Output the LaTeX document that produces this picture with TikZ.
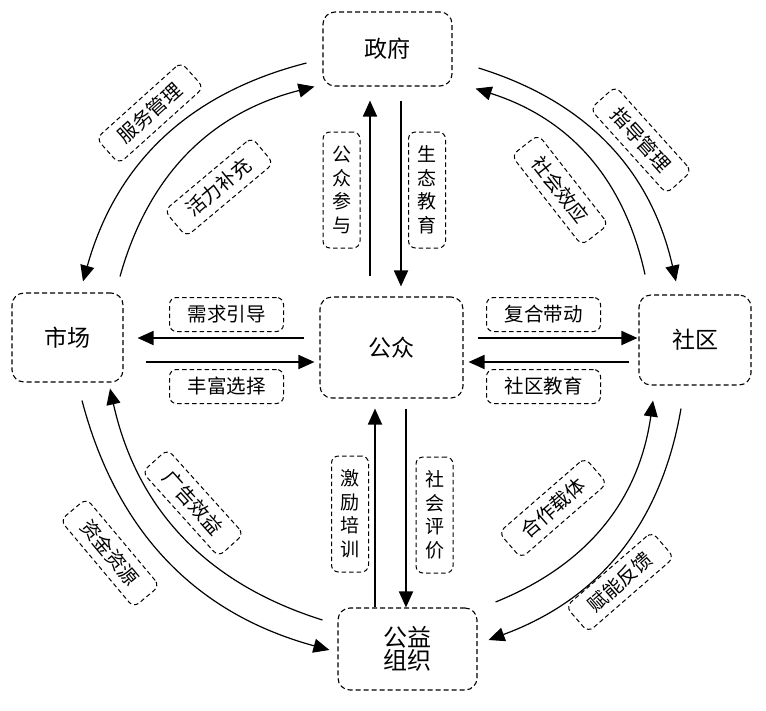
\documentclass[tikz,border=0pt]{standalone}
\usepackage{fontspec}
\newfontfamily\cjk{Noto Sans CJK SC}
\usetikzlibrary{arrows.meta}
\begin{document}
\begin{tikzpicture}[x=1pt,y=1pt,
  dbox/.style={draw, dash pattern=on 5pt off 3pt, line width=1.1pt, rounded corners=12pt, inner sep=0pt, font=\cjk\fontsize{23}{25}\selectfont},
  lbl/.style={draw, dash pattern=on 4.5pt off 3pt, line width=1pt, rounded corners=7pt, minimum width=114pt, minimum height=34pt, inner sep=0pt, font=\cjk\fontsize{19.5}{22}\selectfont},
  vlbl/.style={draw, dash pattern=on 4.5pt off 3pt, line width=1pt, rounded corners=7pt, minimum width=37pt, minimum height=116pt, inner sep=0pt, align=center, font=\cjk\fontsize{19}{23.5}\selectfont},
  sarr/.style={line width=1.8pt, -{Triangle[length=16pt,width=14pt]}},
  carr/.style={line width=1.2pt, -{Triangle[length=16pt,width=14pt]}},
  bend angle=30]
\useasboundingbox (0,0) rectangle (766,-710);
% main nodes
\node[dbox, minimum width=129pt, minimum height=74pt] (gov) at (387.5,-49) {政府};
\node[dbox, minimum width=143pt, minimum height=101pt] (pub) at (391.5,-347.5) {公众};
\node[dbox, minimum width=111pt, minimum height=89pt] (mkt) at (67.5,-337.5) {市场};
\node[dbox, minimum width=112pt, minimum height=90pt] (com) at (695,-340) {社区};
\node[dbox, minimum width=139pt, minimum height=82pt, align=center, font=\cjk\fontsize{24}{23}\selectfont] (ngo) at (407.5,-649) {公益\\组织};
% horizontal labels
\node[lbl] (l1) at (226.5,-314.5) {需求引导};
\node[lbl] (l2) at (226.5,-386.5) {丰富选择};
\node[lbl] (l3) at (543.5,-314.5) {复合带动};
\node[lbl] (l4) at (543.5,-386.5) {社区教育};
% vertical labels
\node[vlbl] (v1) at (341.5,-190) {公\\众\\参\\与};
\node[vlbl] (v2) at (427,-190) {生\\态\\教\\育};
\node[vlbl] (v3) at (350,-514) {激\\励\\培\\训};
\node[vlbl] (v4) at (434.5,-515) {社\\会\\评\\价};
% rotated labels
\node[lbl, rotate=42] (r1) at (150,-113) {服务管理};
\node[lbl, rotate=40] (r2) at (219,-187) {活力补充};
\node[lbl, rotate=-48] (r3) at (641,-140) {指导管理};
\node[lbl, rotate=-52] (r4) at (560,-190) {社会效应};
\node[lbl, rotate=-48] (r5) at (193,-503) {广告效益};
\node[lbl, rotate=-50] (r6) at (110,-553) {资金资源};
\node[lbl, rotate=41] (r7) at (553,-508) {合作载体};
\node[lbl, rotate=41] (r8) at (620,-582) {赋能反馈};
% straight arrows
\draw[sarr] ([xshift=-21.5pt,yshift=20pt]pub.north) -- ([xshift=-17.5pt,yshift=-14pt]gov.south);
\draw[sarr] ([xshift=13.5pt,yshift=-14pt]gov.south) -- ([xshift=9.5pt,yshift=10pt]pub.north);
\draw[sarr] ([xshift=-32.5pt]ngo.north) -- ([xshift=-16.5pt,yshift=-10pt]pub.south);
\draw[sarr] ([xshift=14.5pt,yshift=-10pt]pub.south) -- ([xshift=-1.5pt]ngo.north);
\draw[sarr] ([xshift=-15pt,yshift=9.5pt]pub.west) -- ([xshift=14pt,yshift=-0.5pt]mkt.east);
\draw[sarr] ([xshift=22pt,yshift=-24.5pt]mkt.east) -- ([xshift=-5pt,yshift=-14.5pt]pub.west);
\draw[sarr] ([xshift=14pt,yshift=9.5pt]pub.east) -- ([xshift=-1pt,yshift=2pt]com.west);
\draw[sarr] ([xshift=-9pt,yshift=-22pt]com.west) -- ([xshift=5pt,yshift=-14.5pt]pub.east);
% curved arrows
\draw[carr] ([xshift=-16pt,yshift=-14pt]gov.west) to[bend right] ([xshift=15.5pt,yshift=11pt]mkt.north);
\draw[carr] ([xshift=52.5pt,yshift=16pt]mkt.north) to[bend left] ([xshift=-8pt]gov.south west);
\draw[carr] ([xshift=26pt,yshift=-19pt]gov.east) to[bend left] ([xshift=-19pt,yshift=13pt]com.north);
\draw[carr] ([xshift=-50pt,yshift=20pt]com.north) to[bend right] ([xshift=23pt,yshift=-2pt]gov.south east);
\draw[carr] ([xshift=14.5pt,yshift=-18pt]mkt.south) to[bend right] ([xshift=-8pt,yshift=-1pt]ngo.west);
\draw[carr] ([xshift=-15pt,yshift=29pt]ngo.west) to[bend left] ([xshift=42.5pt,yshift=-6pt]mkt.south);
\draw[carr] ([xshift=-14pt,yshift=-23pt]com.south) to[bend left] ([xshift=11pt,yshift=9pt]ngo.east);
\draw[carr] ([xshift=18pt,yshift=47pt]ngo.east) to[bend right] ([xshift=-42pt,yshift=-15pt]com.south);
\end{tikzpicture}
\end{document}
